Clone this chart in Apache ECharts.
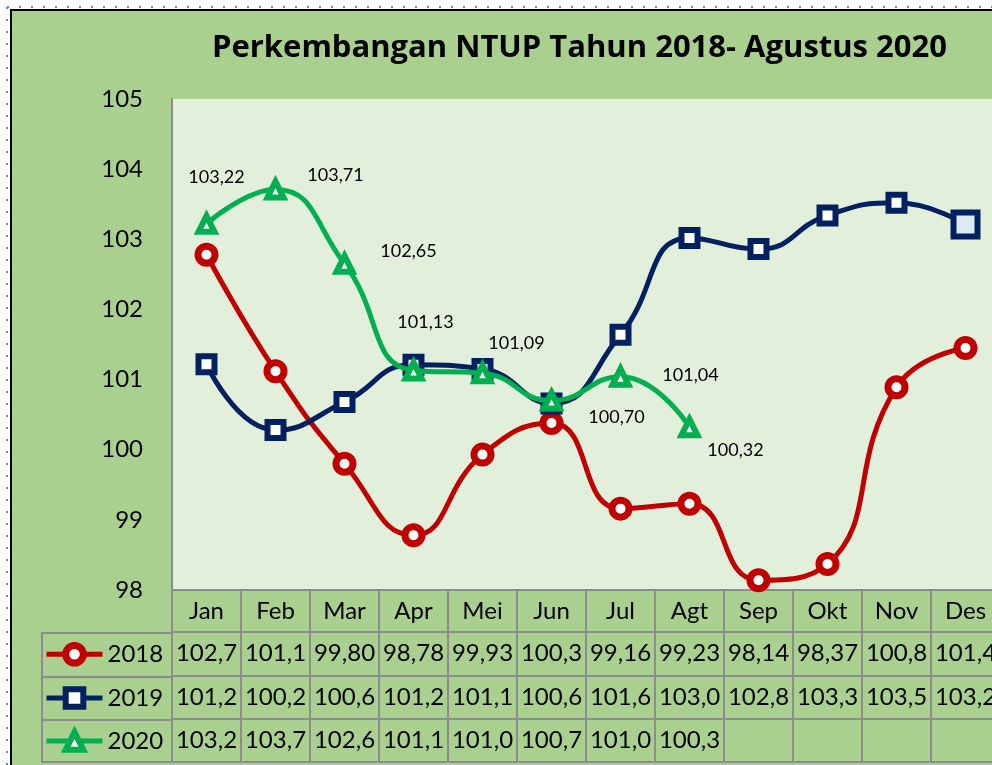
<!DOCTYPE html>
<html>
<head>
<meta charset="utf-8">
<title>Perkembangan NTUP Tahun 2018- Agustus 2020</title>
<script src="https://cdn.jsdelivr.net/npm/echarts@6/dist/echarts.min.js"></script>
<style>
  html, body { margin: 0; padding: 0; background: #fff; }
  #chart { width: 992px; height: 765px; }
</style>
</head>
<body>
<div id="chart"></div>
<script>
// data
const months = ['Jan', 'Feb', 'Mar', 'Apr', 'Mei', 'Jun', 'Jul', 'Agt', 'Sep', 'Okt', 'Nov', 'Des'];
const years = ['2018', '2019', '2020'];
const ntup2018 = [102.78, 101.12, 99.80, 98.78, 99.93, 100.38, 99.16, 99.23, 98.14, 98.37, 100.89, 101.45];
const ntup2019 = [101.22, 100.28, 100.68, 101.21, 101.15, 100.66, 101.64, 103.02, 102.86, 103.34, 103.52, 103.21];
const ntup2020 = [103.22, 103.71, 102.65, 101.13, 101.09, 100.70, 101.04, 100.32];
const yMin = 98;
const yMax = 105;
const yStep = 1;

const FONT = 'Lato';
const GRID_LINE = '#8c8c8c';
const colors = ['#C00000', '#002060', '#00B050'];
const symbols = ['circle', 'rect', 'triangle'];
const rows = [ntup2018, ntup2019, ntup2020];

// label placement of the 2020 data labels (px, from the point)
const labelOffsets2020 = [[10, -47], [60, -14], [64, -13], [12, -48], [34, -30], [65, 17], [70, -2], [46, 23]];

// table row axes (offset below the plot)
const rowOffsets = [42, 86, 129];

function comma(v) {
  return v.toFixed(2).replace('.', ',');
}

// excel shows 2 decimals, clipped by the narrow cell
function cellText(v) {
  if (v == null) return '';
  return comma(v).slice(0, 5);
}

function makeSeries(k) {
  let data = rows[k];
  if (k === 1) {
    // last 2019 point is drawn highlighted
    data = data.map((v, i) => i === data.length - 1
      ? { value: v, symbolSize: 24, itemStyle: { color: '#DDEBF7' } }
      : v);
  }
  if (k === 2) {
    data = data.map((v, i) => ({ value: v, label: { offset: labelOffsets2020[i] } }));
  }
  return {
    name: years[k],
    type: 'line',
    data: data,
    smooth: 0.5,
    symbol: symbols[k],
    symbolSize: k === 0 ? 17 : 16,
    lineStyle: { color: colors[k], width: 5 },
    itemStyle: { color: '#fff', borderColor: colors[k], borderWidth: k === 0 ? 7 : 6 },
    label: {
      show: k === 2,
      position: 'inside',
      formatter: p => comma(p.value),
      fontFamily: FONT,
      fontSize: 18,
      color: '#000'
    },
    emphasis: { disabled: true },
    z: 2 + k
  };
}

const axisLineStyle = { color: GRID_LINE, width: 2 };

const xAxes = [{
  type: 'category',
  data: months,
  boundaryGap: true,
  axisLine: { lineStyle: axisLineStyle },
  axisTick: { show: true, interval: 0, length: 172, lineStyle: axisLineStyle },
  axisLabel: { interval: 0, margin: 9, fontFamily: FONT, fontSize: 24, color: '#000' }
}];
rowOffsets.forEach((off, k) => {
  xAxes.push({
    type: 'category',
    data: months,
    position: 'bottom',
    offset: off,
    axisLine: { lineStyle: axisLineStyle },
    axisTick: { show: false },
    axisLabel: {
      interval: 0, margin: 9, fontFamily: FONT, fontSize: 24, color: '#000',
      formatter: (v, i) => cellText(rows[k][i])
    }
  });
});
// bottom border of the table
xAxes.push({
  type: 'category', data: months, position: 'bottom', offset: 172,
  axisLine: { lineStyle: axisLineStyle }, axisTick: { show: false }, axisLabel: { show: false }
});

const rowTops = [642, 686, 729];
const legends = years.map((y, k) => ({
  data: [y],
  left: 44,
  top: rowTops[k],
  padding: 0,
  itemWidth: 56,
  itemHeight: 22,
  selectedMode: false,
  itemStyle: { borderWidth: k === 0 ? 7 : 6 },
  lineStyle: { width: 5 },
  textStyle: { fontFamily: FONT, fontSize: 24, color: '#000' }
}));

function hLine(x1, x2, y) {
  return { type: 'line', z: 5, shape: { x1: x1, y1: y, x2: x2, y2: y }, style: { stroke: GRID_LINE, lineWidth: 2 } };
}

const option = {
  animation: false,
  backgroundColor: '#fff',
  title: {
    text: 'Perkembangan NTUP Tahun 2018- Agustus 2020',
    left: 207,
    top: 28,
    textStyle: { fontFamily: 'Open Sans', fontSize: 31, fontWeight: 'bold', color: '#000' }
  },
  grid: {
    left: 172, width: 828, top: 99, bottom: 175,
    outerBoundsMode: 'none',
    show: true, backgroundColor: '#E2EFDA', borderWidth: 0
  },
  legend: legends,
  xAxis: xAxes,
  yAxis: {
    type: 'value',
    min: yMin, max: yMax, interval: yStep,
    axisLine: { show: true, lineStyle: axisLineStyle },
    axisTick: { show: false },
    splitLine: { show: false },
    axisLabel: { margin: 29, fontFamily: FONT, fontSize: 24, color: '#000' }
  },
  graphic: [
    // chart area with black frame
    { type: 'rect', z: -10, shape: { x: 11, y: 10, width: 1000, height: 800 },
      style: { fill: '#A9D08E', stroke: '#000', lineWidth: 2 } },
    // selection dots of the sheet
    { type: 'line', z: -10, shape: { x1: 7, y1: 7, x2: 992, y2: 7 },
      style: { stroke: '#5B8FD0', lineWidth: 2, lineDash: [2, 10] } },
    { type: 'line', z: -10, shape: { x1: 7, y1: 7, x2: 7, y2: 765 },
      style: { stroke: '#5B8FD0', lineWidth: 2, lineDash: [2, 10] } },
    // legend column of the data table
    hLine(42, 172, 633), hLine(42, 172, 677), hLine(42, 172, 720), hLine(42, 172, 762),
    { type: 'line', z: 5, shape: { x1: 42, y1: 632, x2: 42, y2: 763 }, style: { stroke: GRID_LINE, lineWidth: 2 } }
  ],
  series: [0, 1, 2].map(makeSeries)
};

const chart = echarts.init(document.getElementById('chart'), null, { renderer: 'canvas' });
chart.setOption(option);
</script>
</body>
</html>
